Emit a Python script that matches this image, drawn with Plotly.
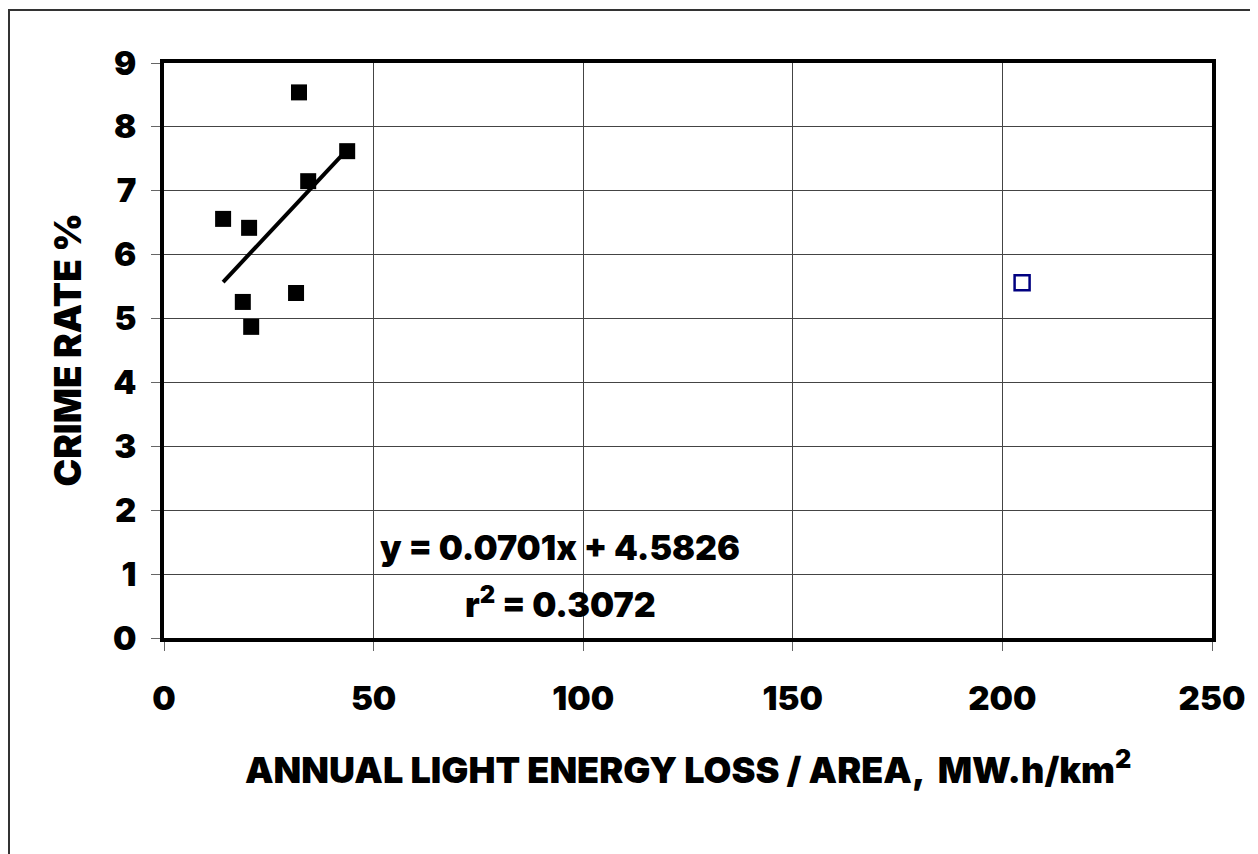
import plotly.graph_objects as go

# Data
x_filled = [32.2, 43.7, 34.4, 14.1, 20.3, 18.8, 31.5, 20.8]
y_filled = [8.54, 7.62, 7.15, 6.56, 6.42, 5.26, 5.40, 4.87]
x_open = [204.7]
y_open = [5.56]
slope = 0.0701
intercept = 4.5826
r2 = 0.3072
x_ticks = [0, 50, 100, 150, 200, 250]
y_ticks = [0, 1, 2, 3, 4, 5, 6, 7, 8, 9]

FONT = "Inter"
W = 900

trend_x = [min(x_filled), max(x_filled)]
trend_y = [slope * v + intercept for v in trend_x]

fig = go.Figure()
fig.add_trace(go.Scatter(x=trend_x, y=trend_y, mode="lines",
                         line=dict(color="black", width=4), showlegend=False))
fig.add_trace(go.Scatter(x=x_filled, y=y_filled, mode="markers",
                         marker=dict(symbol="square", size=16, color="black",
                                     line=dict(width=0)),
                         showlegend=False))
fig.add_trace(go.Scatter(x=x_open, y=y_open, mode="markers",
                         marker=dict(symbol="square-open", size=15, color="#000080",
                                     line=dict(width=2.5, color="#000080")),
                         showlegend=False))

axis_common = dict(
    showline=True, linewidth=4, linecolor="black", mirror=True,
    showgrid=True, gridcolor="#444444", gridwidth=1,
    ticks="outside", ticklen=9, tickcolor="#666666", tickwidth=1,
    tickfont=dict(family=FONT, size=33, color="black", weight=W),
    zeroline=False, fixedrange=True,
)

fig.update_xaxes(range=[0, 250], tickvals=x_ticks,
                 ticktext=[str(v) for v in x_ticks],
                 ticklabelstandoff=19, **axis_common)
fig.update_yaxes(range=[0, 9], tickvals=y_ticks,
                 ticktext=[str(v) for v in y_ticks],
                 ticklabelstandoff=8, **axis_common)

fig.add_annotation(x=94.5, y=1.41, xref="x", yref="y", showarrow=False,
                   text=f"y = {slope:.4f}x + {intercept:.4f}",
                   font=dict(family=FONT, size=34, color="black", weight=W))
fig.add_annotation(x=94.5, y=0.55, xref="x", yref="y", showarrow=False,
                   text=f"r<sup>2</sup> = {r2:.4f}",
                   font=dict(family=FONT, size=34, color="black", weight=W))

fig.add_annotation(x=0.5, y=-0.226, xref="paper", yref="paper", showarrow=False,
                   yanchor="middle",
                   text="ANNUAL LIGHT ENERGY LOSS / AREA,  MW.h/km<sup>2</sup>",
                   font=dict(family=FONT, size=36, color="black", weight=W))
fig.add_annotation(x=(67 - 164) / 1048, y=0.5, xref="paper", yref="paper", showarrow=False,
                   textangle=-90, xanchor="center", yanchor="middle",
                   text="CRIME RATE %",
                   font=dict(family=FONT, size=37, color="black", weight=W))

fig.add_shape(type="rect", xref="paper", yref="paper",
              x0=(9 - 164) / 1048, y0=-0.6, x1=1.3, y1=(638 - 10) / 575,
              line=dict(color="#333333", width=2), fillcolor="rgba(0,0,0,0)",
              layer="below")

# page body adds an 8px offset, so the figure is 8px smaller with margins shifted
fig.update_layout(
    width=1250, height=846,
    margin=dict(l=156, r=46, t=55, b=216),
    paper_bgcolor="white", plot_bgcolor="white",
    showlegend=False,
)

fig.write_html("out.html")
